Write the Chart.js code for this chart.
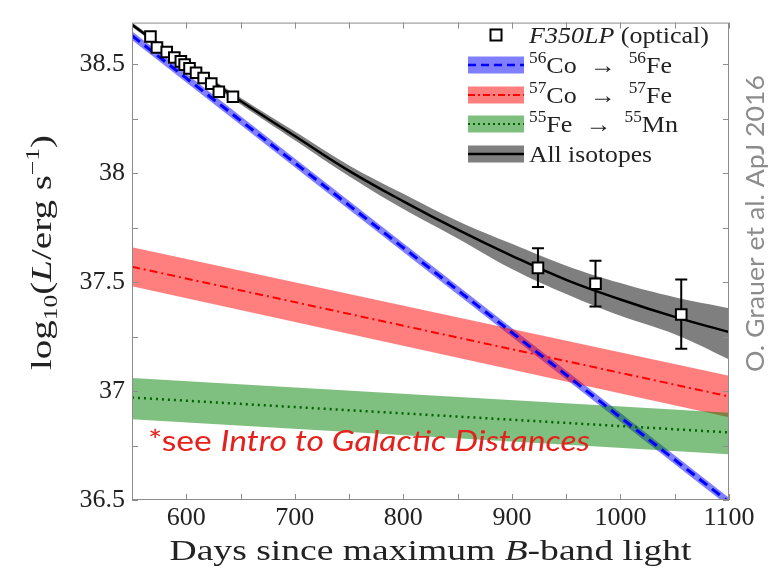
<!DOCTYPE html>
<html>
<head>
<meta charset="utf-8">
<script src="https://cdn.jsdelivr.net/npm/chart.js@4"></script>
<style>
  html, body { margin: 0; padding: 0; background: #fff; }
  #wrap { width: 782px; height: 570px; }
</style>
</head>
<body>
<div id="wrap"><canvas id="lc"></canvas></div>
<script>
// Light curve of SN 2011fe, isotope decay contributions

// straight decay lines, given at both ends of the axis
const lineDays = [550, 1100];
const co56Line = [38.63, 36.49];
const co56Upper = [38.65, 36.51];
const co56Lower = [38.61, 36.47];
const co57Line = [37.57, 36.975];
const co57Upper = [37.66, 37.07];
const co57Lower = [37.48, 36.88];
const fe55Line = [36.97, 36.81];
const fe55Upper = [37.06, 36.90];
const fe55Lower = [36.87, 36.71];

// combined model
const allDays = [550, 600, 650, 700, 750, 800, 850, 900, 950, 1000, 1050, 1100];
const allLine = [38.68, 38.50, 38.33, 38.17, 38.01, 37.87, 37.74, 37.62, 37.51, 37.42, 37.34, 37.27];
const allUpper = [38.69, 38.51, 38.345, 38.19, 38.035, 37.905, 37.78, 37.675, 37.575, 37.495, 37.43, 37.38];
const allLower = [38.67, 38.49, 38.315, 38.15, 37.985, 37.835, 37.70, 37.56, 37.445, 37.345, 37.26, 37.145];

// F350LP observations
const obsDays = [567, 573, 582, 589, 595, 598.5, 603, 609, 616, 623, 630, 643, 924, 977, 1056];
const obsLum = [38.626, 38.576, 38.555, 38.53, 38.512, 38.497, 38.48, 38.46, 38.436, 38.41, 38.373, 38.35, 37.565, 37.492, 37.351];
const obsErrHi = [0, 0, 0, 0, 0, 0, 0, 0, 0, 0, 0, 0, 0.09, 0.105, 0.16];
const obsErrLo = [0, 0, 0, 0, 0, 0, 0, 0, 0, 0, 0, 0, 0.088, 0.104, 0.157];

// axis ticks
const xLabels = [600, 700, 800, 900, 1000, 1100];
const xMinor = [650, 750, 850, 950, 1050];
const yLabels = [36.5, 37, 37.5, 38, 38.5];
const yMinor = [36.75, 37.25, 37.75, 38.25];

const BLUE = '#0000ff', RED = '#ff0000', GREEN = '#006400', BLACK = '#000000';
const BLUE_BAND = 'rgba(0,0,255,0.5)';
const RED_BAND = 'rgba(255,0,0,0.5)';
const GREEN_BAND = 'rgba(0,128,0,0.5)';
const GREY_BAND = 'rgba(0,0,0,0.5)';

// take the first installed family from a list
function pickFont(list, generic) {
  const c = document.createElement('canvas').getContext('2d');
  const probe = 'mmmmmmmmmlliWQ0123456789';
  c.font = '40px monospace';
  const base = c.measureText(probe).width;
  for (const f of list) {
    c.font = '40px "' + f + '", monospace';
    if (c.measureText(probe).width !== base) return '"' + f + '", ' + generic;
  }
  return generic;
}

const SERIF = pickFont(['Liberation Serif', 'Times New Roman', 'Tinos', 'DejaVu Serif'], 'serif');
const SANS = pickFont(['Lato', 'Open Sans', 'Noto Sans', 'Liberation Sans'], 'sans-serif');
const TXT = '#222';

const pts = (xs, ys) => xs.map((x, i) => ({ x, y: ys[i] }));

function band(xs, hi, lo, color, tension) {
  return [
    { data: pts(xs, hi), fill: '+1', backgroundColor: color, borderColor: 'transparent', borderWidth: 0, pointRadius: 0, tension: tension || 0 },
    { data: pts(xs, lo), fill: false, borderColor: 'transparent', borderWidth: 0, pointRadius: 0, tension: tension || 0 }
  ];
}

function fontOf(p) {
  return (p.italic ? 'italic ' : '') + p.size + 'px ' + (p.family || SERIF);
}

// draws a run of text pieces (sub/superscripts, italics), optionally squeezed to a width
function drawRich(ctx, pieces, x, y, o) {
  o = o || {};
  ctx.save();
  ctx.translate(x, y);
  if (o.rotate) ctx.rotate(o.rotate);
  let total = 0;
  const widths = pieces.map(p => {
    ctx.font = fontOf(p);
    const w = ctx.measureText(p.text).width;
    total += w;
    return w;
  });
  if (o.width) ctx.scale(o.width / total, 1);
  let cx = o.align === 'center' ? -total / 2 : 0;
  ctx.fillStyle = o.color || TXT;
  ctx.textBaseline = 'alphabetic';
  ctx.textAlign = 'left';
  pieces.forEach((p, i) => {
    ctx.font = fontOf(p);
    ctx.fillText(p.text, cx, p.dy || 0);
    cx += widths[i];
  });
  ctx.restore();
}

function sq(ctx, x, y, side) {
  ctx.save();
  ctx.fillStyle = '#fff';
  ctx.strokeStyle = '#000';
  ctx.lineWidth = 2;
  ctx.fillRect(x - side / 2, y - side / 2, side, side);
  ctx.strokeRect(x - side / 2, y - side / 2, side, side);
  ctx.restore();
}

const legendRows = [
  { kind: 'marker', cy: 35, width: 180,
    text: [{ text: 'F350LP', italic: true, size: 24 }, { text: ' (optical)', size: 24 }] },
  { kind: 'band', cy: 65, fill: BLUE_BAND, line: BLUE, dash: [8, 5], lw: 2.5, width: 143,
    text: [{ text: '56', size: 16, dy: -10 }, { text: 'Co  \u2192  ', size: 24 }, { text: '56', size: 16, dy: -10 }, { text: 'Fe', size: 24 }] },
  { kind: 'band', cy: 95, fill: RED_BAND, line: RED, dash: [7, 3, 2, 3], lw: 2, width: 143,
    text: [{ text: '57', size: 16, dy: -10 }, { text: 'Co  \u2192  ', size: 24 }, { text: '57', size: 16, dy: -10 }, { text: 'Fe', size: 24 }] },
  { kind: 'band', cy: 124, fill: GREEN_BAND, line: GREEN, dash: [2, 3], lw: 2, width: 149,
    text: [{ text: '55', size: 16, dy: -10 }, { text: 'Fe  \u2192  ', size: 24 }, { text: '55', size: 16, dy: -10 }, { text: 'Mn', size: 24 }] },
  { kind: 'band', cy: 154, fill: GREY_BAND, line: BLACK, dash: [], lw: 2.5, width: 123,
    text: [{ text: 'All isotopes', size: 24 }] }
];

const decor = {
  id: 'decor',
  beforeDatasetDraw(chart, args) {
    if (args.index !== 0) return;
    const ctx = chart.ctx, xs = chart.scales.x, ys = chart.scales.y;
    ctx.save();
    ctx.strokeStyle = '#000';
    ctx.lineWidth = 2;
    obsDays.forEach((d, i) => {
      if (!obsErrHi[i]) return;
      const px = xs.getPixelForValue(d);
      const top = ys.getPixelForValue(obsLum[i] + obsErrHi[i]);
      const bot = ys.getPixelForValue(obsLum[i] - obsErrLo[i]);
      ctx.beginPath();
      ctx.moveTo(px, top); ctx.lineTo(px, bot);
      ctx.moveTo(px - 6, top); ctx.lineTo(px + 6, top);
      ctx.moveTo(px - 6, bot); ctx.lineTo(px + 6, bot);
      ctx.stroke();
    });
    ctx.restore();
  },
  afterDraw(chart) {
    const ctx = chart.ctx, a = chart.chartArea, xs = chart.scales.x, ys = chart.scales.y;
    ctx.save();
    // frame and inward ticks
    ctx.strokeStyle = '#8c8c8c';
    ctx.lineWidth = 1;
    ctx.strokeRect(a.left + 0.5, a.top + 0.5, a.right - a.left - 1, a.bottom - a.top - 1);
    ctx.beginPath();
    xLabels.concat(xMinor).forEach(v => {
      const px = Math.round(xs.getPixelForValue(v)) + 0.5;
      ctx.moveTo(px, a.bottom); ctx.lineTo(px, a.bottom - 6);
      ctx.moveTo(px, a.top); ctx.lineTo(px, a.top + 6);
    });
    yLabels.concat(yMinor).forEach(v => {
      const py = Math.round(ys.getPixelForValue(v)) + 0.5;
      ctx.moveTo(a.left, py); ctx.lineTo(a.left + 6, py);
      ctx.moveTo(a.right, py); ctx.lineTo(a.right - 6, py);
    });
    ctx.stroke();
    ctx.restore();

    // legend
    legendRows.forEach(r => {
      if (r.kind === 'marker') {
        sq(ctx, 496, r.cy, 11);
      } else {
        ctx.save();
        ctx.fillStyle = r.fill;
        ctx.fillRect(468, r.cy - 8.5, 56, 17);
        ctx.strokeStyle = r.line;
        ctx.lineWidth = r.lw;
        ctx.setLineDash(r.dash);
        ctx.beginPath();
        ctx.moveTo(468, r.cy); ctx.lineTo(524, r.cy);
        ctx.stroke();
        ctx.restore();
      }
      drawRich(ctx, r.text, 529, r.cy + 8, { width: r.width });
    });

    // axis titles
    drawRich(ctx, [
      { text: 'Days since maximum ', size: 29 },
      { text: 'B', italic: true, size: 29 },
      { text: '-band light', size: 29 }
    ], (a.left + a.right) / 2, 560, { align: 'center', width: 522 });

    drawRich(ctx, [
      { text: 'log', size: 29 },
      { text: '10', size: 19, dy: 6 },
      { text: '(', size: 29 },
      { text: 'L', italic: true, size: 29 },
      { text: '/erg s', size: 29 },
      { text: '\u22121', size: 19, dy: -12 },
      { text: ')', size: 29 }
    ], 51, 370, { rotate: -Math.PI / 2, width: 235 });

    // annotations
    drawRich(ctx, [
      { text: '*see ', size: 28, family: SANS },
      { text: 'Intro to Galactic Distances', italic: true, size: 28, family: SANS }
    ], 148, 451, { width: 442, color: '#e4211c' });

    drawRich(ctx, [
      { text: 'O. Grauer et al. ApJ 2016', size: 25, family: SANS }
    ], 764, 372, { rotate: -Math.PI / 2, width: 297, color: '#8c8c8c' });
  }
};

const datasets = [
  { data: pts(obsDays, obsLum), showLine: false, pointStyle: 'rect', pointRadius: 7.5,
    pointBackgroundColor: '#fff', pointBorderColor: '#000', pointBorderWidth: 2 },
  { data: pts(allDays, allLine), borderColor: BLACK, borderWidth: 2.5, pointRadius: 0, fill: false, tension: 0.4 },
  { data: pts(lineDays, co56Line), borderColor: BLUE, borderWidth: 3, borderDash: [10, 6], pointRadius: 0, fill: false },
  { data: pts(lineDays, co57Line), borderColor: RED, borderWidth: 2, borderDash: [8, 4, 2, 4], pointRadius: 0, fill: false },
  { data: pts(lineDays, fe55Line), borderColor: GREEN, borderWidth: 2.5, borderDash: [2, 4], pointRadius: 0, fill: false },
  ...band(allDays, allUpper, allLower, GREY_BAND, 0.4),
  ...band(lineDays, fe55Upper, fe55Lower, GREEN_BAND),
  ...band(lineDays, co57Upper, co57Lower, RED_BAND),
  ...band(lineDays, co56Upper, co56Lower, BLUE_BAND)
];

new Chart(document.getElementById('lc'), {
  type: 'line',
  data: { datasets },
  options: {
    responsive: true,
    maintainAspectRatio: false,
    animation: false,
    layout: { padding: { top: 18, right: 53, left: 0, bottom: 0 } },
    plugins: {
      legend: { display: false },
      tooltip: { enabled: false },
      filler: { drawTime: 'beforeDatasetsDraw' }
    },
    scales: {
      x: {
        type: 'linear', min: 550, max: 1100,
        grid: { display: false, drawTicks: false },
        border: { display: false },
        afterBuildTicks: s => { s.ticks = xLabels.map(v => ({ value: v })); },
        afterFit: s => { s.height = 70; },
        ticks: { color: TXT, padding: 3, maxRotation: 0, font: { family: SERIF, size: 26 }, callback: v => String(v) }
      },
      y: {
        type: 'linear', min: 36.5, max: 38.69,
        grid: { display: false, drawTicks: false },
        border: { display: false },
        afterBuildTicks: s => { s.ticks = yLabels.map(v => ({ value: v })); },
        afterFit: s => { s.width = 132; },
        ticks: { color: TXT, padding: 7, font: { family: SERIF, size: 26 }, callback: v => String(v) }
      }
    }
  },
  plugins: [decor]
});
</script>
</body>
</html>
